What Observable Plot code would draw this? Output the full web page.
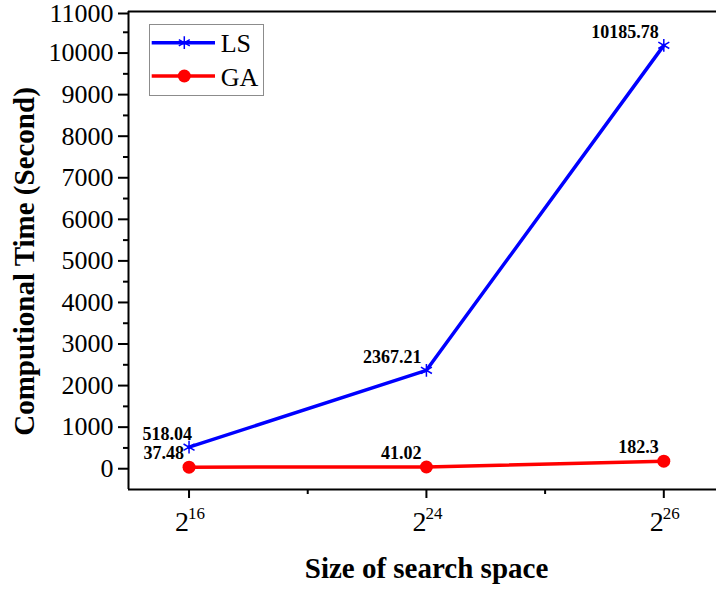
<!DOCTYPE html>
<html><head><meta charset="utf-8">
<script src="https://cdn.jsdelivr.net/npm/d3@7"></script>
<script src="https://cdn.jsdelivr.net/npm/@observablehq/plot@0.6"></script>
<style>
body{margin:0;background:#fff;}
#wrap{position:relative;width:716px;height:590px;overflow:hidden;}
#wrap svg, #wrap svg text{font-family:"Liberation Serif","Times New Roman",serif !important;}
</style></head><body><div id="wrap"></div>
<script>
// ---- data ----
const xPositions = [1, 2, 3];
const tickBase = ["2", "2", "2"];
const tickExp = ["16", "24", "26"];
const seriesNames = ["LS", "GA"];
const lsValues = [518.04, 2367.21, 10185.78];
const gaValues = [37.48, 41.02, 182.3];
const lsLabels = ["518.04", "2367.21", "10185.78"];
const gaLabels = ["37.48", "41.02", "182.3"];
const yTicks = [0, 1000, 2000, 3000, 4000, 5000, 6000, 7000, 8000, 9000, 10000, 11000];
const yMinor = [500, 1500, 2500, 3500, 4500, 5500, 6500, 7500, 8500, 9500, 10500];
const xMinor = [1.5, 2.5];
const xTitle = "Size of search space";
const yTitle = "Computional Time (Second)";

const data = xPositions.map((x, i) => ({
  x, ls: lsValues[i], ga: gaValues[i], lsLabel: lsLabels[i], gaLabel: gaLabels[i],
  base: tickBase[i], exp: tickExp[i], i
}));

const xDomain = [0.745, 3.222];
const yDomain = [-500, 11000];
const FONT = "Liberation Serif";
const BLUE = "#0000ff", RED = "#ff0000";
const T = {fontFamily: FONT, fill: "black"};
const topTick = yTicks[yTicks.length - 1];

const plot = Plot.plot({
  width: 716, height: 590,
  marginTop: 11, marginBottom: 101, marginLeft: 128, marginRight: 0,
  style: {fontFamily: FONT, background: "white", color: "black", overflow: "visible"},
  x: {type: "linear", domain: xDomain},
  y: {domain: yDomain},
  marks: [
    Plot.ruleY([yDomain[1]], {stroke: "black", strokeWidth: 2}),
    Plot.ruleY([yDomain[0]], {stroke: "black", strokeWidth: 2}),
    Plot.ruleX([xDomain[0]], {stroke: "black", strokeWidth: 2}),
    Plot.axisY(yTicks.filter(t => t !== topTick), {tickSize: 10, tickPadding: 5, fontSize: 26, strokeWidth: 2, label: null, tickFormat: d => String(d), ...T}),
    Plot.axisY([topTick], {tickSize: 10, tickPadding: 5, fontSize: 26, strokeWidth: 2, label: null, tickFormat: d => String(d), dy: 2, ...T}),
    Plot.axisY(yMinor, {tickSize: 5, text: null, strokeWidth: 2, label: null}),
    Plot.axisX(xPositions, {tickSize: 9, text: null, strokeWidth: 2, label: null}),
    Plot.axisX(xMinor, {tickSize: 5, text: null, strokeWidth: 2, label: null}),
    // x tick labels with superscripts
    Plot.text(data, {x: "x", text: "base", frameAnchor: "bottom", lineAnchor: "bottom", textAnchor: "end", dx: 0, dy: 41, fontSize: 28, ...T}),
    Plot.text(data, {x: "x", text: "exp", frameAnchor: "bottom", lineAnchor: "bottom", textAnchor: "start", dx: -1, dy: 29, fontSize: 17, ...T}),
    // axis titles
    Plot.text([xTitle], {text: d => d, frameAnchor: "bottom", textAnchor: "middle", lineAnchor: "bottom", dx: 4, dy: 88, fontSize: 29, fontWeight: "bold", ...T}),
    Plot.text([yTitle], {text: d => d, frameAnchor: "left", textAnchor: "middle", rotate: -90, dx: -104, dy: 11, fontSize: 29, fontWeight: "bold", ...T}),
    // series
    Plot.line(data, {x: "x", y: "ls", stroke: BLUE, strokeWidth: 3.5}),
    Plot.line(data, {x: "x", y: "ga", stroke: RED, strokeWidth: 3.5}),
    Plot.dot(data, {x: "x", y: "ls", symbol: "asterisk", r: 6, stroke: BLUE, strokeWidth: 1.5}),
    Plot.dot(data, {x: "x", y: "ga", r: 6.5, fill: RED, stroke: "none"}),
    // data labels
    Plot.text(data.filter(d => d.i === 0), {x: "x", y: "ls", text: "lsLabel", textAnchor: "end", lineAnchor: "bottom", dx: 3, dy: -7, fontSize: 18, fontWeight: "bold", ...T}),
    Plot.text(data.filter(d => d.i > 0), {x: "x", y: "ls", text: "lsLabel", textAnchor: "end", lineAnchor: "bottom", dx: -5, dy: -7, fontSize: 18, fontWeight: "bold", ...T}),
    Plot.text(data, {x: "x", y: "ga", text: "gaLabel", textAnchor: "end", lineAnchor: "bottom", dx: -5, dy: -8, fontSize: 18, fontWeight: "bold", ...T})
  ]
});

// legend inside plot area
const svg = d3.select(plot);
const lg = svg.append("g").attr("font-family", FONT).attr("text-anchor", "start");
lg.append("rect").attr("x", 149.5).attr("y", 24.5).attr("width", 114).attr("height", 71)
  .attr("fill", "white").attr("stroke", "#8c8c8c").attr("stroke-width", 1);
const colors = [BLUE, RED];
const rowY = [42.7, 76];
seriesNames.forEach((name, k) => {
  lg.append("line").attr("x1", 151.7).attr("x2", 215).attr("y1", rowY[k]).attr("y2", rowY[k])
    .attr("stroke", colors[k]).attr("stroke-width", 3.5);
  if (k === 0) {
    lg.append("path").attr("d", d3.symbol(d3.symbolAsterisk, Math.PI * 36)())
      .attr("transform", `translate(184.3,${rowY[k]})`).attr("stroke", colors[k]).attr("stroke-width", 1.5).attr("fill", "none");
  } else {
    lg.append("circle").attr("cx", 184.3).attr("cy", rowY[k]).attr("r", 6.5).attr("fill", colors[k]);
  }
  lg.append("text").attr("x", 220.7).attr("y", rowY[k] + 9.5).attr("text-anchor", "start")
    .attr("font-size", 26).attr("fill", "black").text(name);
});

svg.selectAll("text").attr("font-family", FONT);
document.getElementById("wrap").appendChild(plot);
</script></body></html>
